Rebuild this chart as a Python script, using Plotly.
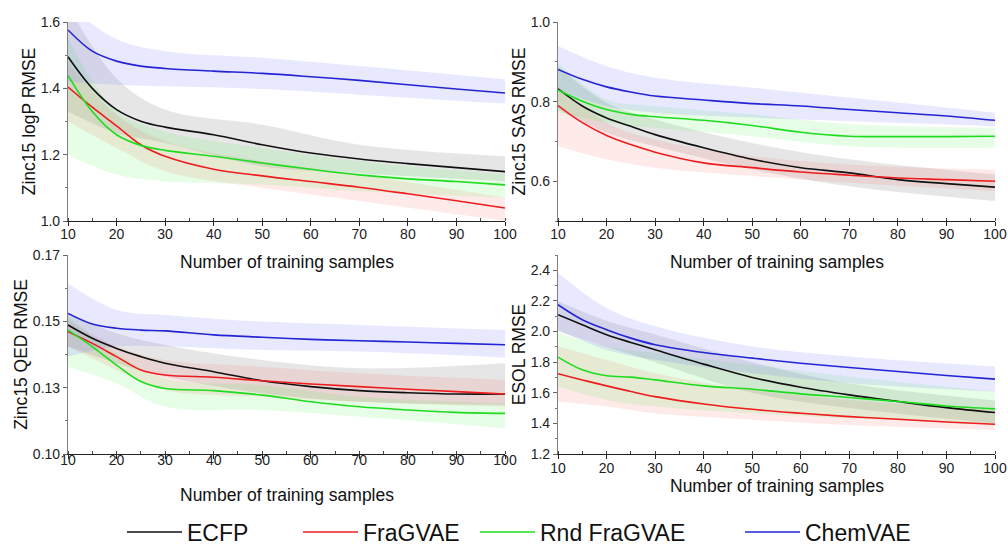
import plotly.graph_objects as go

W, H = 1008, 548

# ---------------- data ----------------
X = [10, 15, 20, 25, 30, 40, 50, 60, 70, 80, 90, 100]
BX = [10, 20, 30, 50, 70, 100]
SERIES = ["ECFP", "FraGVAE", "Rnd FraGVAE", "ChemVAE"]

# Zinc15 logP RMSE
logp_ecfp = [1.495, 1.400, 1.336, 1.301, 1.283, 1.260, 1.230, 1.205, 1.187, 1.173, 1.161, 1.149]
logp_fragvae = [1.404, 1.343, 1.287, 1.230, 1.195, 1.156, 1.136, 1.119, 1.102, 1.082, 1.061, 1.039]
logp_rnd = [1.439, 1.330, 1.260, 1.228, 1.213, 1.195, 1.175, 1.156, 1.139, 1.127, 1.119, 1.109]
logp_chem = [1.576, 1.512, 1.482, 1.467, 1.460, 1.452, 1.445, 1.435, 1.424, 1.411, 1.398, 1.386]
logp_ecfp_hi = [1.65, 1.43, 1.336, 1.29, 1.23, 1.195]
logp_ecfp_lo = [1.33, 1.265, 1.235, 1.165, 1.144, 1.12]
logp_fragvae_hi = [1.48, 1.32, 1.24, 1.18, 1.14, 1.07]
logp_fragvae_lo = [1.30, 1.22, 1.15, 1.10, 1.06, 1.00]
logp_rnd_hi = [1.55, 1.33, 1.27, 1.22, 1.18, 1.14]
logp_rnd_lo = [1.20, 1.14, 1.12, 1.11, 1.09, 1.07]
logp_chem_hi = [1.65, 1.548, 1.512, 1.492, 1.467, 1.427]
logp_chem_lo = [1.42, 1.411, 1.406, 1.398, 1.381, 1.354]

# Zinc15 SAS RMSE
sas_ecfp = [0.832, 0.789, 0.759, 0.738, 0.717, 0.684, 0.655, 0.634, 0.621, 0.604, 0.594, 0.585]
sas_fragvae = [0.790, 0.747, 0.715, 0.692, 0.673, 0.646, 0.634, 0.623, 0.615, 0.608, 0.604, 0.600]
sas_rnd = [0.829, 0.801, 0.780, 0.768, 0.762, 0.753, 0.740, 0.723, 0.713, 0.712, 0.712, 0.713]
sas_chem = [0.881, 0.856, 0.837, 0.824, 0.814, 0.804, 0.795, 0.789, 0.780, 0.772, 0.764, 0.753]
sas_ecfp_hi = [0.889, 0.797, 0.755, 0.696, 0.655, 0.617]
sas_ecfp_lo = [0.780, 0.722, 0.688, 0.630, 0.587, 0.550]
sas_fragvae_hi = [0.839, 0.747, 0.705, 0.663, 0.642, 0.629]
sas_fragvae_lo = [0.688, 0.655, 0.634, 0.613, 0.596, 0.575]
sas_rnd_hi = [0.898, 0.805, 0.789, 0.768, 0.743, 0.734]
sas_rnd_lo = [0.772, 0.747, 0.734, 0.713, 0.688, 0.684]
sas_chem_hi = [0.940, 0.889, 0.860, 0.835, 0.810, 0.772]
sas_chem_lo = [0.830, 0.789, 0.772, 0.760, 0.751, 0.738]

# Zinc15 QED RMSE
qed_ecfp = [0.1486, 0.1436, 0.1398, 0.1367, 0.1342, 0.1310, 0.1276, 0.1254, 0.1239, 0.1231, 0.1226, 0.1226]
qed_fragvae = [0.1461, 0.1417, 0.1367, 0.1317, 0.1298, 0.1289, 0.1276, 0.1264, 0.1254, 0.1244, 0.1235, 0.1226]
qed_rnd = [0.1467, 0.1405, 0.1335, 0.1273, 0.1247, 0.1239, 0.1222, 0.1197, 0.1178, 0.1166, 0.1157, 0.1153]
qed_chem = [0.1530, 0.1490, 0.1474, 0.1467, 0.1464, 0.1449, 0.1440, 0.1432, 0.1427, 0.1422, 0.1417, 0.1412]
qed_ecfp_hi = [0.1530, 0.1455, 0.1411, 0.1354, 0.1323, 0.1342]
qed_ecfp_lo = [0.1405, 0.1342, 0.1291, 0.1229, 0.1197, 0.1185]
qed_fragvae_hi = [0.1505, 0.1405, 0.1354, 0.1329, 0.1304, 0.1279]
qed_fragvae_lo = [0.1405, 0.1317, 0.1241, 0.1216, 0.1197, 0.1178]
qed_rnd_hi = [0.1518, 0.1379, 0.1285, 0.1260, 0.1216, 0.1191]
qed_rnd_lo = [0.1329, 0.1266, 0.1178, 0.1166, 0.1141, 0.1097]
qed_chem_hi = [0.1643, 0.1543, 0.1524, 0.1499, 0.1486, 0.1467]
qed_chem_lo = [0.1367, 0.1405, 0.1405, 0.1392, 0.1386, 0.1364]

# ESOL RMSE
esol_ecfp = [2.110, 2.044, 1.979, 1.929, 1.881, 1.787, 1.700, 1.636, 1.586, 1.543, 1.503, 1.471]
esol_fragvae = [1.724, 1.684, 1.645, 1.608, 1.575, 1.527, 1.492, 1.466, 1.444, 1.427, 1.409, 1.394]
esol_rnd = [1.833, 1.750, 1.711, 1.702, 1.684, 1.645, 1.623, 1.593, 1.569, 1.543, 1.514, 1.495]
esol_chem = [2.175, 2.077, 2.012, 1.957, 1.914, 1.863, 1.826, 1.793, 1.765, 1.739, 1.713, 1.689]
esol_ecfp_hi = [2.20, 2.07, 1.98, 1.80, 1.66, 1.55]
esol_ecfp_lo = [2.00, 1.90, 1.80, 1.60, 1.50, 1.40]
esol_fragvae_hi = [1.903, 1.815, 1.728, 1.619, 1.553, 1.488]
esol_fragvae_lo = [1.543, 1.510, 1.466, 1.423, 1.390, 1.357]
esol_rnd_hi = [1.990, 1.903, 1.859, 1.783, 1.706, 1.608]
esol_rnd_lo = [1.641, 1.553, 1.510, 1.466, 1.433, 1.400]
esol_chem_hi = [2.383, 2.154, 2.034, 1.903, 1.837, 1.772]
esol_chem_lo = [2.012, 1.881, 1.815, 1.728, 1.663, 1.608]

Y_TITLES = ["Zinc15 logP RMSE", "Zinc15 SAS RMSE", "Zinc15 QED RMSE", "ESOL RMSE"]
X_TITLE = "Number of training samples"
QED_TICKVALS = [0.10, 0.125, 0.15, 0.175]
QED_TICKTEXT = ["0.10", "0.13", "0.15", "0.17"]

# ---------------- styling ----------------
LINE_COLORS = ["#111111", "#ee1c1c", "#1edc1e", "#2424d4"]
BAND_COLORS = ["rgba(140,140,140,0.22)", "rgba(255,90,90,0.13)",
               "rgba(60,240,60,0.13)", "rgba(110,110,255,0.16)"]
FONT = "Liberation Sans, Arial, sans-serif"

panels = [
    dict(lines=[logp_ecfp, logp_fragvae, logp_rnd, logp_chem],
         hi=[logp_ecfp_hi, logp_fragvae_hi, logp_rnd_hi, logp_chem_hi],
         lo=[logp_ecfp_lo, logp_fragvae_lo, logp_rnd_lo, logp_chem_lo],
         yaxis=dict(range=[1.0, 1.6], tick0=1.0, dtick=0.2, tickformat=".1f",
                    minor=dict(dtick=0.1, tick0=1.0))),
    dict(lines=[sas_ecfp, sas_fragvae, sas_rnd, sas_chem],
         hi=[sas_ecfp_hi, sas_fragvae_hi, sas_rnd_hi, sas_chem_hi],
         lo=[sas_ecfp_lo, sas_fragvae_lo, sas_rnd_lo, sas_chem_lo],
         yaxis=dict(range=[0.5, 1.0], tick0=0.6, dtick=0.2, tickformat=".1f",
                    minor=dict(dtick=0.1, tick0=0.5))),
    dict(lines=[qed_ecfp, qed_fragvae, qed_rnd, qed_chem],
         hi=[qed_ecfp_hi, qed_fragvae_hi, qed_rnd_hi, qed_chem_hi],
         lo=[qed_ecfp_lo, qed_fragvae_lo, qed_rnd_lo, qed_chem_lo],
         yaxis=dict(range=[0.10, 0.175], tickmode="array", tickvals=QED_TICKVALS,
                    ticktext=QED_TICKTEXT, minor=dict(dtick=0.0125, tick0=0.10))),
    dict(lines=[esol_ecfp, esol_fragvae, esol_rnd, esol_chem],
         hi=[esol_ecfp_hi, esol_fragvae_hi, esol_rnd_hi, esol_chem_hi],
         lo=[esol_ecfp_lo, esol_fragvae_lo, esol_rnd_lo, esol_chem_lo],
         yaxis=dict(range=[1.2, 2.5], tick0=1.2, dtick=0.2, tickformat=".1f",
                    minor=dict(dtick=0.1, tick0=1.2))),
]

# panel pixel boxes: (left, right, top, bottom)
BOXES = [(68, 505, 22, 221), (558, 995, 22, 221), (68, 505, 255, 454), (558, 995, 255, 454)]
XTITLE_Y = [262, 262, 495, 486]
TICK_STANDOFF = [-4, -4, -11, -3]

fig = go.Figure()
layout = dict(width=W, height=H, margin=dict(l=0, r=0, t=0, b=0, autoexpand=False),
              paper_bgcolor="white", plot_bgcolor="white",
              font=dict(family=FONT, color="#222222"), showlegend=True)
annotations = []

for i, p in enumerate(panels):
    n = i + 1
    xa = "x" if n == 1 else f"x{n}"
    ya = "y" if n == 1 else f"y{n}"
    for k in range(4):
        fig.add_trace(go.Scatter(x=BX, y=p["hi"][k], xaxis=xa, yaxis=ya, mode="lines",
                                 line=dict(width=0, shape="spline", color=BAND_COLORS[k]),
                                 showlegend=False, hoverinfo="skip"))
        fig.add_trace(go.Scatter(x=BX, y=p["lo"][k], xaxis=xa, yaxis=ya, mode="lines",
                                 line=dict(width=0, shape="spline", color=BAND_COLORS[k]),
                                 fill="tonexty", fillcolor=BAND_COLORS[k],
                                 showlegend=False, hoverinfo="skip"))
    for k in range(4):
        fig.add_trace(go.Scatter(x=X, y=p["lines"][k], xaxis=xa, yaxis=ya, mode="lines",
                                 name=SERIES[k],
                                 line=dict(width=1.6, shape="spline", color=LINE_COLORS[k]),
                                 showlegend=(i == 0),
                                 legend="legend" if k == 0 else f"legend{k + 1}"))
    l, r, t, b = BOXES[i]
    xkey = "xaxis" if n == 1 else f"xaxis{n}"
    ykey = "yaxis" if n == 1 else f"yaxis{n}"
    layout[xkey] = dict(domain=[l / W, r / W], anchor=ya, range=[10, 100], dtick=10, tick0=10,
                        automargin=False,
                        showgrid=False, zeroline=False, showline=True, linecolor="#222222",
                        linewidth=1.2, ticks="outside", ticklen=4, tickcolor="#222222",
                        ticklabelstandoff=TICK_STANDOFF[i],
                        minor=dict(ticks="inside", ticklen=3, dtick=5, tick0=10,
                                   tickcolor="#444444", showgrid=False),
                        tickfont=dict(size=14, color="#222222"))
    yax = dict(domain=[1 - b / H, 1 - t / H], anchor=xa, showgrid=False, zeroline=False,
               automargin=False,
               showline=True, linecolor="#808080", linewidth=1.2, ticks="outside",
               ticklen=4, tickcolor="#666666",
               tickfont=dict(size=14, color="#222222"),
               title=dict(text=Y_TITLES[i], font=dict(size=17.5, color="#111111"), standoff=0))
    ym = p["yaxis"]
    minor = dict(ticks="outside", ticklen=2, tickcolor="#777777", showgrid=False)
    minor.update(ym.get("minor", {}))
    yax.update({k2: v for k2, v in ym.items() if k2 != "minor"})
    yax["minor"] = minor
    layout[ykey] = yax
    annotations.append(dict(text=X_TITLE, xref="paper", yref="paper",
                            x=(l + r) / 2 / W, y=1 - XTITLE_Y[i] / H,
                            xanchor="center", yanchor="middle", showarrow=False,
                            font=dict(size=17.5, color="#111111")))

LEG_X = [127, 303, 480, 745]
for k in range(4):
    key = "legend" if k == 0 else f"legend{k + 1}"
    layout[key] = dict(x=(LEG_X[k] - 5) / W, y=1 - 532 / H, xanchor="left", yanchor="middle",
                       xref="container", yref="container",
                       orientation="h", bgcolor="rgba(0,0,0,0)", itemwidth=55,
                       font=dict(size=23, color="#111111", family=FONT))

layout["annotations"] = annotations
fig.update_layout(**layout)
fig.write_html("out.html", config={"displayModeBar": False},
               post_script="document.body.style.margin='0';")
